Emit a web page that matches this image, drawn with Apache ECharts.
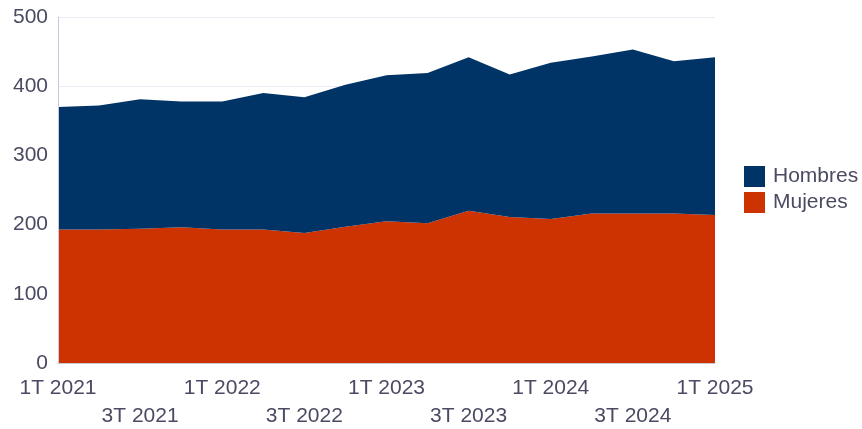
<!DOCTYPE html>
<html>
<head>
<meta charset="utf-8">
<script src="https://cdn.jsdelivr.net/npm/echarts@6/dist/echarts.min.js"></script>
<style>html,body{margin:0;padding:0;background:#fff}#c{width:862px;height:429px}</style>
</head>
<body>
<div id="c"></div>
<script>
var categories = ['1T 2021','2T 2021','3T 2021','4T 2021','1T 2022','2T 2022','3T 2022','4T 2022','1T 2023','2T 2023','3T 2023','4T 2023','1T 2024','2T 2024','3T 2024','4T 2024','1T 2025'];
var mujeres = [193,193,194,196,193,193,188,197,205,202,220,211,208,216,216,216,214];
var hombres = [177,179,187,182,185,197,196,205,211,217,222,206,226,227,237,220,228];
var yTicks = [0,100,200,300,400,500];

var font = '"Liberation Sans", Arial, sans-serif';
var txt = '#4a4a62';
var chart = echarts.init(document.getElementById('c'));
chart.setOption({
  animation: false,
  textStyle: {fontFamily: font},
  grid: {left: 58, right: 147, top: 17, bottom: 66, containLabel: false, outerBoundsMode: 'none'},
  legend: {
    orient: 'vertical', left: 739, top: 161,
    data: ['Hombres','Mujeres'],
    icon: 'rect', itemWidth: 21, itemHeight: 21, itemGap: 5,
    textStyle: {fontSize: 21, color: txt, fontFamily: font, padding: [0,0,0,3]}
  },
  xAxis: {
    type: 'category', data: categories, boundaryGap: false,
    axisLine: {show: true, lineStyle: {color: '#c8c8d4', width: 1}},
    axisTick: {show: false},
    axisLabel: {
      interval: 1, fontSize: 21, color: txt, fontFamily: font, margin: 11, lineHeight: 28,
      formatter: function (v, i) { return (i % 4 === 2) ? '\n' + v : v; }
    }
  },
  yAxis: {
    type: 'value', min: yTicks[0], max: yTicks[yTicks.length-1], interval: 100,
    z: 3,
    axisLine: {show: true, lineStyle: {color: '#c8c8dc', width: 1}},
    axisTick: {show: false},
    axisLabel: {fontSize: 21, color: txt, fontFamily: font, margin: 10},
    splitLine: {show: true, lineStyle: {color: 'rgba(205,205,225,0.4)', width: 1}}
  },
  series: [
    {name: 'Mujeres', type: 'line', stack: 't', data: mujeres, symbol: 'none',
     lineStyle: {width: 0}, areaStyle: {color: '#cc3300', opacity: 1}, itemStyle: {color: '#cc3300'}},
    {name: 'Hombres', type: 'line', stack: 't', data: hombres, symbol: 'none',
     lineStyle: {width: 0}, areaStyle: {color: '#003366', opacity: 1}, itemStyle: {color: '#003366'}}
  ]
});
</script>
</body>
</html>
